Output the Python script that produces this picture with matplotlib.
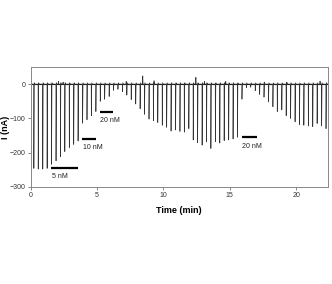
import matplotlib

matplotlib.use("Agg")
import matplotlib.pyplot as plt
import numpy as np

plt.rcParams["font.family"] = ["Liberation Sans", "DejaVu Sans"]

# injection times (min) and peak currents (nA)
spike_times = [
    0.25, 0.58, 0.92, 1.25, 1.58, 1.92, 2.25, 2.58, 2.92, 3.25, 3.58,
    3.92, 4.25, 4.58, 4.92, 5.25, 5.58, 5.92, 6.25, 6.58, 6.92, 7.25,
    7.58, 7.92, 8.25, 8.58, 8.92, 9.25, 9.58, 9.92, 10.25, 10.58, 10.92,
    11.25, 11.58, 11.92, 12.25, 12.58, 12.92, 13.25, 13.58, 13.92, 14.25,
    14.58, 14.92, 15.25, 15.58, 15.92, 16.25, 16.58, 16.92, 17.25, 17.58,
    17.92, 18.25, 18.58, 18.92, 19.25, 19.58, 19.92, 20.25, 20.58, 20.92,
    21.25, 21.58, 21.92, 22.25,
]
spike_depths = [
    -246, -248, -248, -246, -234, -224, -212, -197, -185, -176, -166,
    -114, -104, -92, -80, -50, -44, -36, -18, -15, -22, -32,
    -45, -58, -72, -88, -102, -107, -112, -120, -126, -137, -134,
    -138, -140, -130, -163, -171, -178, -168, -188, -168, -172,
    -165, -163, -160, -155, -44, -10, -9, -19, -30, -38,
    -52, -66, -80, -75, -92, -100, -110, -118, -120, -122,
    -124, -115, -122, -130,
]

# small positive artefacts on the baseline
blip_times = [2.1, 2.45, 7.2, 8.45, 9.3, 12.45, 13.1, 14.7, 17.6, 19.3, 21.8]
blip_heights = [8, 6, 8, 24, 10, 20, 8, 8, 6, 6, 9]

# concentration bars: label, start, end, level (nA)
bar_labels = ["5 nM", "10 nM", "20 nM", "20 nM"]
bar_starts = [1.54, 3.9, 5.2, 15.9]
bar_ends = [3.6, 4.93, 6.2, 17.05]
bar_levels = [-245, -160, -80, -155]

x_ticks = [0, 5, 10, 15, 20]
y_ticks = [0, -100, -200, -300]

# build the trace as baseline -> spike -> small overshoot -> baseline
events = sorted(
    [(t, d, "spike") for t, d in zip(spike_times, spike_depths)]
    + [(t, h, "blip") for t, h in zip(blip_times, blip_heights)]
)
trace_x = [0.0]
trace_y = [0.0]
for t, value, kind in events:
    if kind == "spike":
        trace_x += [t - 0.01, t, t + 0.03, t + 0.08]
        trace_y += [0.0, value, 4.0, 0.0]
    else:
        trace_x += [t - 0.02, t, t + 0.02]
        trace_y += [0.0, value, 0.0]
trace_x.append(22.5)
trace_y.append(0.0)

fig = plt.figure(figsize=(3.32, 2.84), dpi=100)
ax = fig.add_axes([0.092, 0.342, 0.896, 0.422])

ax.plot(np.array(trace_x), np.array(trace_y), color="#333333", lw=0.5)
ax.axhline(0, color="#111111", lw=0.8, zorder=1)

for label, start, end, level in zip(bar_labels, bar_starts, bar_ends, bar_levels):
    ax.plot([start, end], [level, level], color="black", lw=1.6,
            solid_capstyle="butt")
    ax.text(start + 0.05, level - 26, label, fontsize=5, color="#222222",
            ha="left", va="center")

ax.set_xlim(0, 22.4)
ax.set_ylim(-300, 50)
ax.set_xticks(x_ticks)
ax.set_yticks(y_ticks)
ax.tick_params(labelsize=5, length=2, width=0.5, pad=1.5, colors="#555555",
               labelcolor="#333333")
for spine in ax.spines.values():
    spine.set_color("#888888")
    spine.set_linewidth(0.7)

ax.set_xlabel("Time (min)", fontsize=6.5, fontweight="bold", labelpad=5)
ax.set_ylabel("I (nA)", fontsize=6.5, fontweight="bold")
ax.yaxis.set_label_coords(-0.068, 0.5)

fig.savefig("out.png", dpi=100)
